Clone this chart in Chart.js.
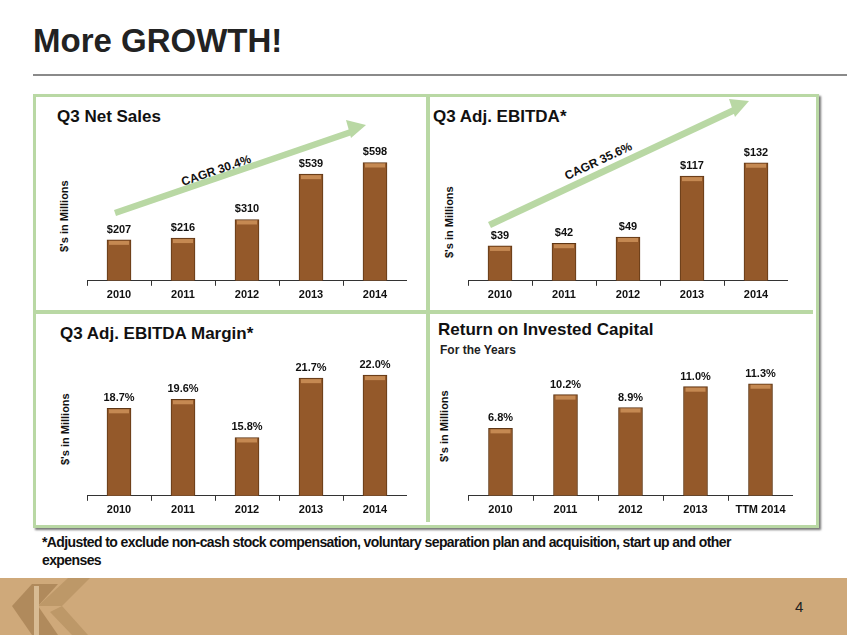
<!DOCTYPE html>
<html><head><meta charset="utf-8">
<script src="https://cdn.jsdelivr.net/npm/chart.js@4/dist/chart.umd.min.js"></script>
<style>
body{margin:0;width:847px;height:635px;position:relative;background:#fff;font-family:Arial,"Liberation Sans",sans-serif;overflow:hidden}
.abs{position:absolute}
h1{position:absolute;left:33px;top:22px;margin:0;font-size:33px;font-weight:bold;color:#222}
.ttl{position:absolute;font-weight:bold;font-size:17px;color:#111}
.yt{position:absolute;font-weight:bold;font-size:11px;color:#111;transform:rotate(-90deg);transform-origin:left top;white-space:nowrap}
canvas{position:absolute}
</style></head><body>
<h1>More GROWTH!</h1>
<div class="abs" style="left:33px;top:74px;width:814px;height:2px;background:#8a8a8a"></div>
<div class="abs" style="left:33px;top:94px;width:780px;height:428px;border:3px solid #b9d8a4;box-shadow:2px 2px 2px #777"></div>
<div class="abs" style="left:426px;top:97px;width:4px;height:425px;background:#b9d8a4"></div>
<div class="abs" style="left:36px;top:310px;width:777px;height:4px;background:#b9d8a4"></div>
<div class="ttl" style="left:57px;top:107px">Q3 Net Sales</div>
<div class="ttl" style="left:433px;top:107px">Q3 Adj. EBITDA*</div>
<div class="ttl" style="left:60px;top:324px">Q3 Adj. EBITDA Margin*</div>
<div class="ttl" style="left:438px;top:320px">Return on Invested Capital</div>
<div class="abs" style="left:440px;top:343px;font-size:12px;font-weight:bold;color:#222">For the Years</div>
<div class="yt" style="left:58px;top:252px">$'s in Millions</div>
<div class="yt" style="left:443px;top:258px">$'s in Millions</div>
<div class="yt" style="left:59px;top:465px">$'s in Millions</div>
<div class="yt" style="left:438px;top:462px">$'s in Millions</div>
<svg class="abs" style="left:0;top:0" width="847" height="635">
<g fill="#b9d8a4">
<polygon points="114,210 353,128 355,134 116,216"/><polygon points="346,120 366,125 351,138"/>
<polygon points="488,222 735,106 738,112 491,228"/><polygon points="729,99 749,101 735,117"/>
</g>
<text x="183" y="186" transform="rotate(-19 183 186)" font-size="12" font-weight="bold" fill="#111">CAGR 30.4%</text>
<text x="567" y="180" transform="rotate(-25 567 180)" font-size="12" font-weight="bold" fill="#111">CAGR 35.6%</text>
</svg>
<canvas id="c1" style="left:87px;top:135px" width="320" height="170"></canvas>
<canvas id="c2" style="left:468px;top:135px" width="320" height="170"></canvas>
<canvas id="c3" style="left:87px;top:350px" width="320" height="170"></canvas>
<canvas id="c4" style="left:468px;top:350px" width="325" height="170"></canvas>
<div class="abs" style="left:42px;top:533px;font-size:14px;letter-spacing:-0.6px;font-weight:bold;color:#111;width:710px;line-height:18px">*Adjusted to exclude non-cash stock compensation, voluntary separation plan and acquisition, start up and other expenses</div>
<div class="abs" style="left:0;top:578px;width:847px;height:57px;background:#cfa97a"></div>
<svg class="abs" style="left:0;top:578px" width="140" height="57">
<polygon points="12,28 32,6 58,6 38,28" fill="#b08a5c"/><polygon points="12,28 32,57 58,57 38,28" fill="#b08a5c"/>
<polygon points="38,28 68,0 90,0 62,28" fill="#bd9868"/><polygon points="62,28 88,57 72,57 50,34" fill="#bd9868"/>
<rect x="34" y="8" width="5" height="49" fill="#d8bb93"/>
</svg>
<div class="abs" style="left:795px;top:598px;font-size:15px;color:#222">4</div>
<script>
const years = ['2010','2011','2012','2013','2014'];
const roicYears = ['2010','2011','2012','2013','TTM 2014'];
const netSales = [207,216,310,539,598];
const ebitda = [39,42,49,117,132];
const margin = [18.7,19.6,15.8,21.7,22.0];
const roic = [6.8,10.2,8.9,11.0,11.3];

const fmts = {};
const labelPlugin = {
  id:'lbl',
  afterDatasetsDraw(chart){
    const c=chart.ctx, fmt=fmts[chart.canvas.id];
    chart.getDatasetMeta(0).data.forEach((b,i)=>{
      c.save();
      // bevel highlight on the bar top
      c.fillStyle='rgba(230,170,110,0.6)';c.fillRect(b.x-10,b.y+1,20,4);
      c.font='bold 11px Arial';c.fillStyle='#111';c.textAlign='center';
      c.fillText(fmt(chart.data.datasets[0].data[i]),b.x,b.y-7);c.restore();
    });
  }
};
function make(id,labels,data,min,max,fmt){
  fmts[id]=fmt;
  new Chart(document.getElementById(id),{type:'bar',
    data:{labels,datasets:[{data,backgroundColor:'#94592a',borderColor:'#5e3614',borderWidth:1,barThickness:24}]},
    options:{responsive:false,animation:false,layout:{padding:0},
      plugins:{legend:{display:false},tooltip:{enabled:false}},
      scales:{y:{display:false,min,max},
        x:{grid:{display:true,drawOnChartArea:false,tickLength:5,color:'#333'},border:{color:'#333'},
          ticks:{color:'#111',font:{weight:'bold',size:11}}}}},
    plugins:[labelPlugin]});
}
make('c1',years,netSales,0,737,v=>'$'+v);
make('c2',years,ebitda,0,163,v=>'$'+v);
make('c3',years,margin,10,24.5,v=>v.toFixed(1)+'%');
make('c4',roicYears,roic,0,14.7,v=>v.toFixed(1)+'%');
</script>
</body></html>
